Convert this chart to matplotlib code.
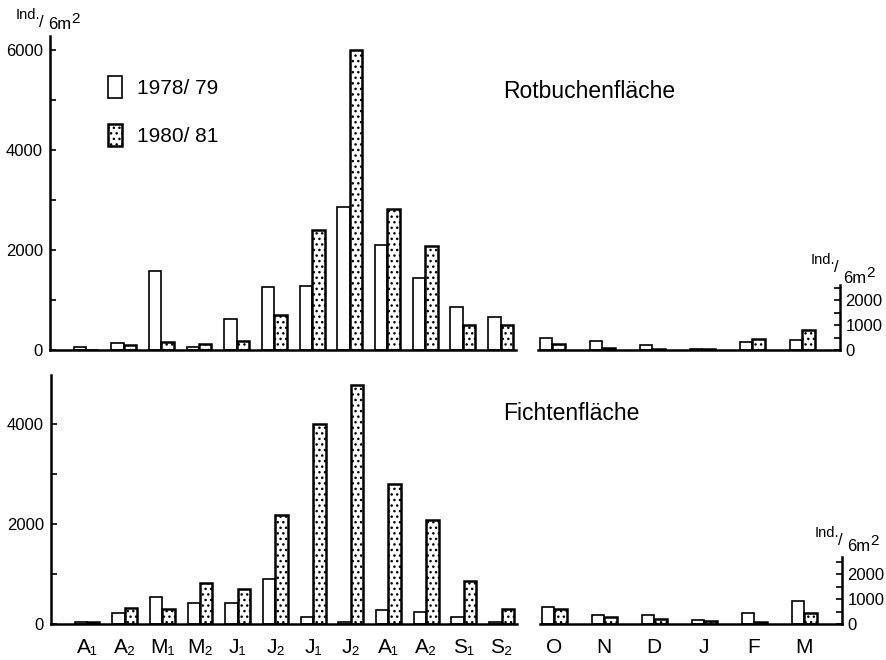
import matplotlib
matplotlib.use("Agg")
import matplotlib.pyplot as plt
from matplotlib.patches import Patch
from matplotlib.ticker import FixedLocator
import numpy as np

plt.rcParams['font.family'] = ['Liberation Sans', 'DejaVu Sans']
plt.rcParams['hatch.linewidth'] = 1.0
plt.rcParams['hatch.color'] = 'black'

# ---------------- data ----------------
half_months = ['A₁', 'A₂', 'M₁', 'M₂', 'J₁', 'J₂', 'J₁', 'J₂', 'A₁', 'A₂', 'S₁', 'S₂']
months = ['O', 'N', 'D', 'J', 'F', 'M']
series_labels = ['1978/ 79', '1980/ 81']

rot_7879 = [70, 150, 1590, 70, 620, 1270, 1290, 2850, 2100, 1450, 860, 660]
rot_8081 = [0, 110, 170, 120, 180, 710, 2390, 5990, 2820, 2080, 510, 510]
rot_win_7879 = [470, 370, 190, 50, 330, 410]
rot_win_8081 = [240, 80, 50, 50, 430, 810]

fi_7879 = [50, 220, 545, 420, 420, 910, 145, 40, 285, 250, 150, 50]
fi_8081 = [50, 330, 300, 815, 700, 2175, 4010, 4790, 2800, 2090, 870, 310]
fi_win_7879 = [665, 350, 365, 160, 425, 905]
fi_win_8081 = [585, 265, 185, 105, 80, 430]

panel_titles = ['Rotbuchenfläche', 'Fichtenfläche']

# ---------------- layout ----------------
W, H = 886, 660
fig = plt.figure(figsize=(W / 100, H / 100), dpi=100)


def ax_px(x0, x1, ybot, ytop):
    return fig.add_axes([x0 / W, 1 - ybot / H, (x1 - x0) / W, (ybot - ytop) / H])


open_style = dict(facecolor='white', edgecolor='black', linewidth=1.2)
dot_style = dict(facecolor='white', edgecolor='black', linewidth=1.8, hatch='...')


def style_left(ax, ymax, majors, minors, show_x):
    ax.set_ylim(0, ymax)
    ax.set_xlim(-0.955, 11.41)
    for s in ['top', 'right']:
        ax.spines[s].set_visible(False)
    ax.spines['left'].set_linewidth(1.8)
    ax.spines['bottom'].set_linewidth(1.8)
    ax.yaxis.set_major_locator(FixedLocator(majors))
    ax.yaxis.set_minor_locator(FixedLocator(minors))
    ax.tick_params(axis='y', which='both', direction='in', length=4, width=1.2,
                   labelsize=12, pad=5)
    ax.set_yticklabels([str(m) for m in majors])
    x = np.arange(len(half_months))
    ax.set_xticks(x)
    if show_x:
        ax.set_xticklabels(half_months, fontsize=15)
    else:
        ax.set_xticklabels([])
    ax.tick_params(axis='x', length=0, pad=10)
    return x


def style_right(ax, ymax, top):
    ax.set_ylim(0, ymax)
    ax.set_xlim(-0.28, 5.76)
    for s in ['top', 'left']:
        ax.spines[s].set_visible(False)
    ax.spines['right'].set_linewidth(1.8)
    ax.spines['right'].set_bounds(0, top)
    ax.spines['bottom'].set_linewidth(1.8)
    ax.yaxis.tick_right()
    ax.yaxis.set_major_locator(FixedLocator([0, 1000, 2000]))
    ax.yaxis.set_minor_locator(FixedLocator([500, 1500, 2500]))
    ax.tick_params(axis='y', which='both', direction='in', length=4, width=1.2,
                   labelsize=12, pad=4)
    ax.set_yticklabels(['0', '1000', '2000'])
    x = np.arange(len(months))
    ax.set_xticks(x)
    ax.tick_params(axis='x', length=0, pad=10)
    return x


# Top panel (Rotbuche)
axTL = ax_px(50, 516, 350, 36)
x = style_left(axTL, 6280, [0, 2000, 4000, 6000], [1000, 3000, 5000], False)
w = 0.33
axTL.bar(x - w / 2, rot_7879, w, **open_style)
axTL.bar(x + w / 2, rot_8081, w, **dot_style)

axTR = ax_px(538, 840, 350, 36)
xr = style_right(axTR, 12560, 2600)
axTR.set_xticklabels([])
wr = 0.25
axTR.bar(xr - wr / 2, rot_win_7879, wr, **open_style)
axTR.bar(xr + wr / 2, rot_win_8081, wr, **dot_style)

# Bottom panel (Fichte)
axBL = ax_px(51, 517, 624, 375)
x = style_left(axBL, 4980, [0, 2000, 4000], [1000, 3000], True)
axBL.bar(x - w / 2, fi_7879, w, **open_style)
axBL.bar(x + w / 2, fi_8081, w, **dot_style)

axBR = ax_px(540, 842, 624, 375)
xr = style_right(axBR, 9960, 2700)
axBR.set_xticklabels(months, fontsize=15)
axBR.bar(xr - wr / 2, fi_win_7879, wr, **open_style)
axBR.bar(xr + wr / 2, fi_win_8081, wr, **dot_style)

# Legend
handles = [Patch(**open_style), Patch(**dot_style)]
leg = fig.legend(handles, series_labels, loc='upper left',
                 bbox_to_anchor=(108 / W, 1 - 76 / H), frameon=False,
                 fontsize=15, handlelength=0.65, handleheight=1.25,
                 handletextpad=0.75, labelspacing=1.25, borderpad=0,
                 borderaxespad=0)

# Panel titles
fig.text(503 / W, 1 - 98 / H, panel_titles[0], fontsize=16.5, va='baseline')
fig.text(503 / W, 1 - 420 / H, panel_titles[1], fontsize=16.5, va='baseline')


# Units labels "Ind./6m²"
def unit_label(x0, y_ind, y_6m):
    fig.text(x0 / W, 1 - y_ind / H, 'Ind.', fontsize=10.5, va='baseline')
    fig.text((x0 + 23) / W, 1 - (y_ind + 8) / H, '/', fontsize=12, va='baseline')
    fig.text((x0 + 32) / W, 1 - y_6m / H, '6m', fontsize=12, va='baseline')
    fig.text((x0 + 55) / W, 1 - (y_6m - 6) / H, '2', fontsize=11, va='baseline')


unit_label(16, 19, 29)
unit_label(811, 264, 283)
unit_label(815, 537, 551)

fig.savefig('out.png', dpi=100)
